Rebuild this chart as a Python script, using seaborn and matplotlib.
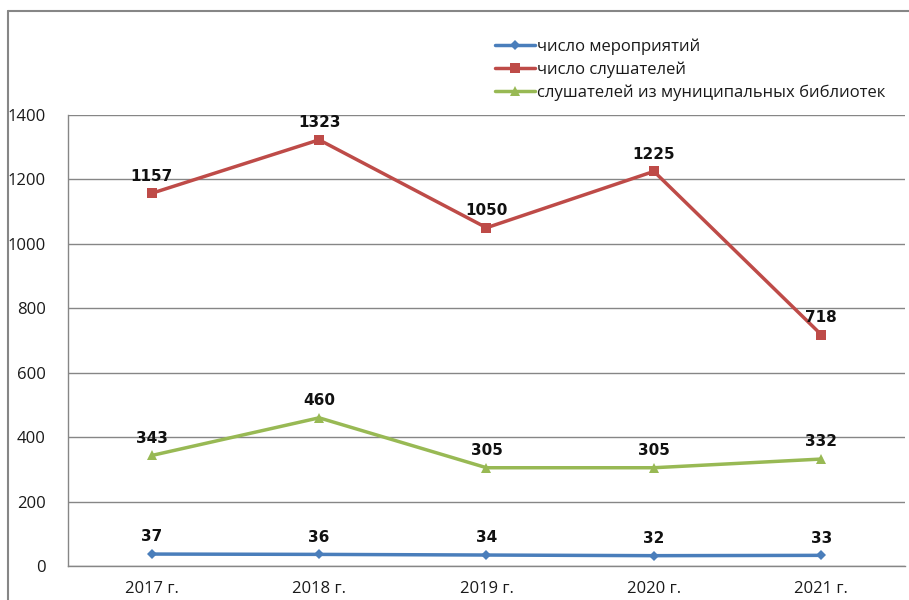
import matplotlib.pyplot as plt
import pandas as pd
import seaborn as sns
from matplotlib.lines import Line2D

years = ["2017 г.", "2018 г.", "2019 г.", "2020 г.", "2021 г."]
events = [37, 36, 34, 32, 33]
listeners = [1157, 1323, 1050, 1225, 718]
municipal = [343, 460, 305, 305, 332]

series_names = ["число мероприятий", "число слушателей",
                "слушателей из муниципальных библиотек"]

df = pd.DataFrame({
    "год": years * 3,
    "значение": events + listeners + municipal,
    "ряд": [series_names[0]] * 5 + [series_names[1]] * 5 + [series_names[2]] * 5,
})

sns.set_theme(style="white")
plt.rcParams["font.family"] = ["Open Sans", "DejaVu Sans"]

colors = {series_names[0]: "#4A7EBB", series_names[1]: "#BE4B48", series_names[2]: "#98B954"}
markers = {series_names[0]: "D", series_names[1]: "s", series_names[2]: "^"}
msizes = {series_names[0]: 5, series_names[1]: 7, series_names[2]: 7}

fig = plt.figure(figsize=(9.09, 6), dpi=100)
ax = fig.add_axes([0.0748, 0.0567, 0.9208, 0.7516])

df["x"] = df["год"].map({y: i for i, y in enumerate(years)})
for name in series_names:
    sub = df[df["ряд"] == name]
    sns.lineplot(data=sub, x="x", y="значение", ax=ax, color=colors[name],
                 marker=markers[name], markersize=msizes[name], markeredgewidth=0,
                 linewidth=2.5, label=name, zorder=3)
    for xi, v in zip(sub["x"], sub["значение"]):
        ax.annotate(str(v), (xi, v), xytext=(0, 7), textcoords="offset points",
                    ha="center", va="bottom", fontsize=11, fontweight="bold",
                    color="#111111", family=["DejaVu Sans"])

ax.set_xlim(-0.5, 4.5)
ax.set_ylim(0, 1400)
ax.set_yticks(range(0, 1401, 200))
ax.set_xticks(range(5))
ax.set_xticklabels(years)
ax.set_xticks([i - 0.5 for i in range(6)], minor=True)
ax.tick_params(axis="x", which="major", length=0, labelsize=12, pad=11, colors="#1a1a1a")
ax.tick_params(axis="x", which="minor", length=6, color="#868686", width=1, direction="out")
ax.tick_params(axis="y", length=6, color="#868686", width=1, direction="out",
               labelsize=12, pad=10, colors="#1a1a1a")
ax.set_xlabel("")
ax.set_ylabel("")
ax.grid(axis="y", color="#868686", linewidth=1)
ax.set_axisbelow(True)
for s in ["top", "right"]:
    ax.spines[s].set_visible(False)
for s in ["left", "bottom"]:
    ax.spines[s].set_color("#868686")
    ax.spines[s].set_linewidth(1)

ax.legend(loc="upper left", bbox_to_anchor=(0.51, 1.17), frameon=False,
          fontsize=12, handlelength=2.4, handletextpad=0.1, labelspacing=0.4,
          borderaxespad=0, borderpad=0, labelcolor="#1a1a1a")

fig.add_artist(Line2D([0.0088, 1.0], [0.9817, 0.9817], transform=fig.transFigure,
                      color="#868686", linewidth=1.5))
fig.add_artist(Line2D([0.0088, 0.0088], [0.0, 0.9817], transform=fig.transFigure,
                      color="#868686", linewidth=1.5))

fig.savefig("out.png", dpi=100)
